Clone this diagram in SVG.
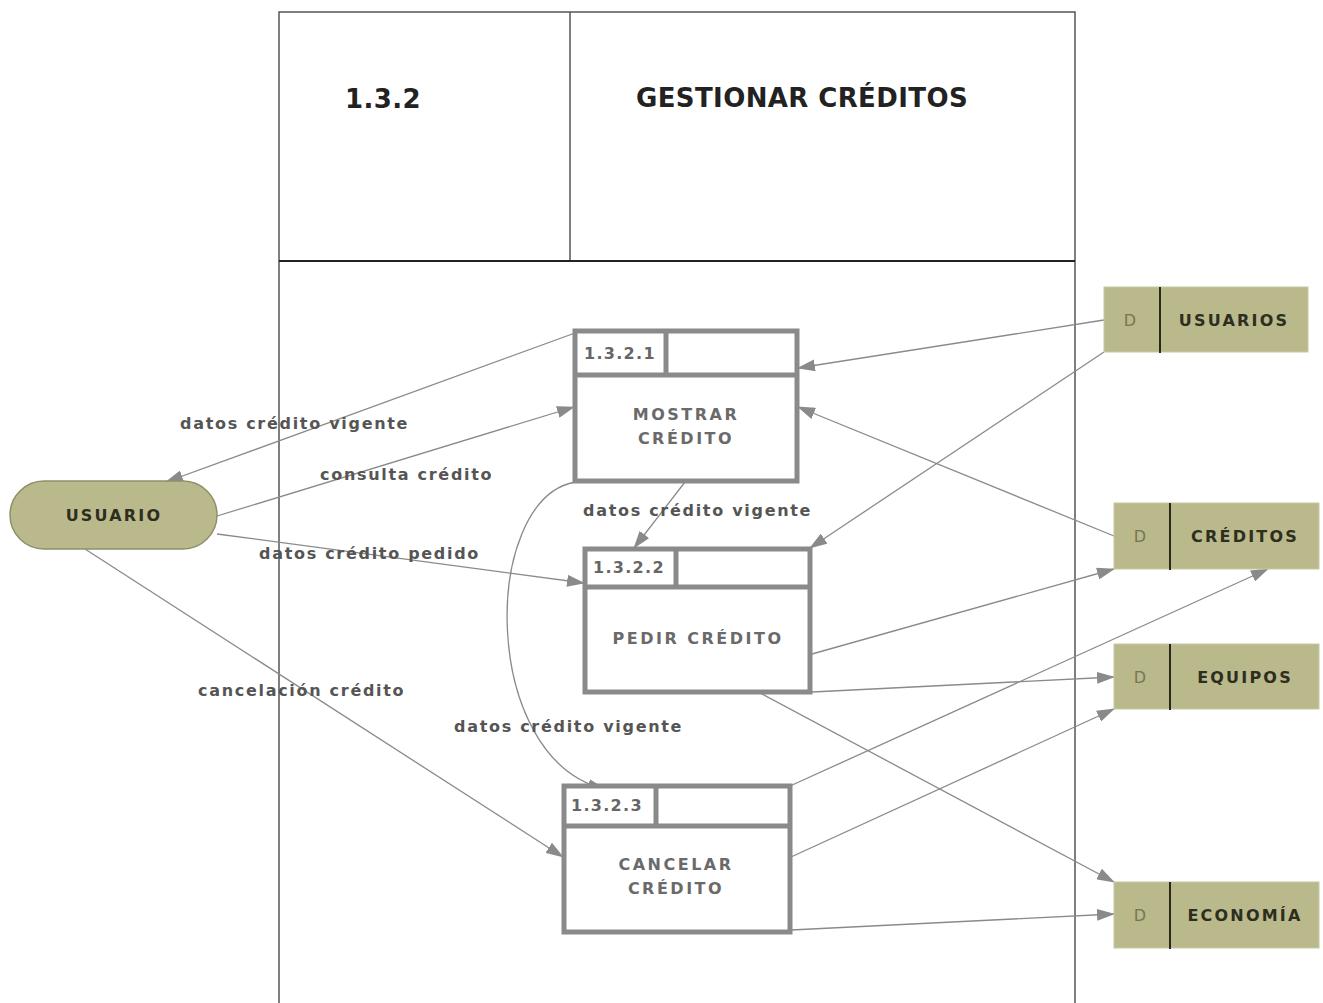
<svg xmlns="http://www.w3.org/2000/svg" width="1323" height="1003" viewBox="0 0 1323 1003">
  <style>
    .frame { fill: none; stroke: #555; stroke-width: 1.5; }
    .title { font-family: "DejaVu Sans", Verdana, sans-serif; font-weight: bold; font-size: 26px; fill: #222; letter-spacing: 0.4px; }
    .proc { fill: #fff; stroke: #8a8a8a; stroke-width: 5; }
    .pid { font-family: "DejaVu Sans", Verdana, sans-serif; font-weight: bold; font-size: 16px; fill: #666; letter-spacing: 1.3px; }
    .pname { font-family: "DejaVu Sans", Verdana, sans-serif; font-weight: bold; font-size: 16px; fill: #6a6a6a; letter-spacing: 2.5px; text-anchor: middle; }
    .store { fill: #b9b98c; stroke: #c8c8a4; stroke-width: 1; }
    .sdiv { stroke: #2a2a1a; stroke-width: 2; }
    .sd { font-family: "DejaVu Sans", Verdana, sans-serif; font-size: 16px; fill: #77774f; text-anchor: middle; }
    .sname { font-family: "DejaVu Sans", Verdana, sans-serif; font-weight: bold; font-size: 16px; fill: #2e2e1e; letter-spacing: 2.2px; text-anchor: middle; }
    .ent { fill: #b9b98c; stroke: #8f8f6a; stroke-width: 1.5; }
    .flow { fill: none; stroke: #8a8a8a; stroke-width: 1.3; marker-end: url(#arrow); }
    .lbl { font-family: "DejaVu Sans", Verdana, sans-serif; font-weight: bold; font-size: 16px; fill: #555; letter-spacing: 1.7px; }
  </style>
  <defs>
    <marker id="arrow" viewBox="0 0 18 12" refX="17" refY="6" markerWidth="18" markerHeight="12" markerUnits="userSpaceOnUse" orient="auto">
      <path d="M0,0 L18,6 L0,12 Z" fill="#8a8a8a"/>
    </marker>
  </defs>

  <rect width="1323" height="1003" fill="#fff"/>

  <!-- process frame with header -->
  <g id="frame">
    <path class="frame" d="M279,1003 V12 H1075 V1003"/>
    <line class="frame" x1="570" y1="12" x2="570" y2="261"/>
    <line x1="279" y1="261" x2="1075" y2="261" stroke="#222" stroke-width="2"/>
    <text class="title" x="345" y="108">1.3.2</text>
    <text class="title" x="802" y="107" text-anchor="middle">GESTIONAR CRÉDITOS</text>
  </g>

  <!-- data flows -->
  <g id="connectors">
    <line class="flow" x1="575" y1="333" x2="166" y2="482"/>
    <line class="flow" x1="217" y1="516" x2="574" y2="407"/>
    <line class="flow" x1="217" y1="534" x2="584" y2="583"/>
    <line class="flow" x1="85" y1="549" x2="563" y2="857"/>
    <line class="flow" x1="685" y1="482" x2="634" y2="548"/>
    <path class="flow" d="M575,482 C480,500 480,760 605,789"/>
    <line class="flow" x1="1104" y1="320" x2="798" y2="368"/>
    <line class="flow" x1="1104" y1="352" x2="810" y2="548"/>
    <line class="flow" x1="1114" y1="536" x2="798" y2="407"/>
    <line class="flow" x1="812" y1="654" x2="1114" y2="569"/>
    <line class="flow" x1="812" y1="692" x2="1114" y2="677"/>
    <line class="flow" x1="760" y1="693" x2="1114" y2="882"/>
    <line class="flow" x1="790" y1="786" x2="1268" y2="569"/>
    <line class="flow" x1="791" y1="857" x2="1114" y2="709"/>
    <line class="flow" x1="791" y1="930" x2="1114" y2="914"/>

    <text class="lbl" x="180" y="429">datos crédito vigente</text>
    <text class="lbl" x="320" y="480">consulta crédito</text>
    <text class="lbl" x="259" y="559">datos crédito pedido</text>
    <text class="lbl" x="198" y="696">cancelación crédito</text>
    <text class="lbl" x="583" y="516">datos crédito vigente</text>
    <text class="lbl" x="454" y="732">datos crédito vigente</text>
  </g>

  <!-- external entity -->
  <g id="usuario">
    <rect class="ent" x="10" y="481" width="207" height="68" rx="34" ry="34"/>
    <text class="sname" x="114" y="521">USUARIO</text>
  </g>

  <!-- processes -->
  <g id="p1321">
    <rect class="proc" x="575" y="331" width="222" height="150"/>
    <line class="proc" x1="575" y1="375" x2="797" y2="375"/>
    <line class="proc" x1="666" y1="331" x2="666" y2="375"/>
    <text class="pid" x="584" y="359">1.3.2.1</text>
    <text class="pname" x="686" y="420">MOSTRAR</text>
    <text class="pname" x="686" y="444">CRÉDITO</text>
  </g>
  <g id="p1322">
    <rect class="proc" x="585" y="549" width="225" height="143"/>
    <line class="proc" x1="585" y1="587" x2="810" y2="587"/>
    <line class="proc" x1="676" y1="549" x2="676" y2="587"/>
    <text class="pid" x="593" y="573">1.3.2.2</text>
    <text class="pname" x="698" y="644">PEDIR CRÉDITO</text>
  </g>
  <g id="p1323">
    <rect class="proc" x="564" y="786" width="226" height="146"/>
    <line class="proc" x1="564" y1="826" x2="790" y2="826"/>
    <line class="proc" x1="656" y1="786" x2="656" y2="826"/>
    <text class="pid" x="571" y="811">1.3.2.3</text>
    <text class="pname" x="676" y="870">CANCELAR</text>
    <text class="pname" x="676" y="894">CRÉDITO</text>
  </g>

  <!-- data stores -->
  <g id="ds-usuarios">
    <rect class="store" x="1104" y="287" width="204" height="65"/>
    <line class="sdiv" x1="1160" y1="287" x2="1160" y2="353"/>
    <text class="sd" x="1130" y="326">D</text>
    <text class="sname" x="1234" y="326">USUARIOS</text>
  </g>
  <g id="ds-creditos">
    <rect class="store" x="1114" y="503" width="205" height="66"/>
    <line class="sdiv" x1="1170" y1="503" x2="1170" y2="570"/>
    <text class="sd" x="1140" y="542">D</text>
    <text class="sname" x="1245" y="542">CRÉDITOS</text>
  </g>
  <g id="ds-equipos">
    <rect class="store" x="1114" y="644" width="205" height="65"/>
    <line class="sdiv" x1="1170" y1="644" x2="1170" y2="710"/>
    <text class="sd" x="1140" y="683">D</text>
    <text class="sname" x="1245" y="683">EQUIPOS</text>
  </g>
  <g id="ds-economia">
    <rect class="store" x="1114" y="882" width="205" height="66"/>
    <line class="sdiv" x1="1170" y1="882" x2="1170" y2="949"/>
    <text class="sd" x="1140" y="921">D</text>
    <text class="sname" x="1245" y="921">ECONOMÍA</text>
  </g>
</svg>
